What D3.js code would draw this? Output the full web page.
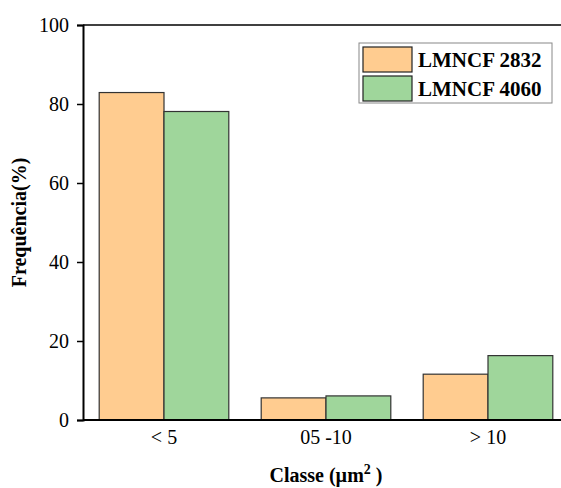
<!DOCTYPE html>
<html>
<head>
    <script src="https://d3js.org/d3.v7.min.js"></script>
    <style>
        body { margin: 0; background: #fff; }
        svg text { font-family: "Liberation Serif", "Times New Roman", "DejaVu Serif", serif; }
    </style>
</head>
<body>
    <svg width="561" height="488" id="chart"></svg>
    <script>
        // Data
        const categories = ["< 5", "05 -10", "> 10"];
        const seriesNames = ["LMNCF 2832", "LMNCF 4060"];
        const lmncf2832 = [82.9, 5.6, 11.6];
        const lmncf4060 = [78.1, 6.1, 16.3];
        const yTicks = [0, 20, 40, 60, 80, 100];
        const colors = ["#FFCC90", "#9FD69B"];

        const svg = d3.select("#chart");
        const plotLeft = 83, plotRight = 561, plotTop = 25, plotBottom = 420;

        const x = d3.scaleBand()
            .domain(categories)
            .range([plotLeft, plotLeft + 486])
            .paddingInner(0.2)
            .paddingOuter(0.1);
        const xs = d3.scaleBand()
            .domain(seriesNames)
            .range([0, x.bandwidth()]);
        const y = d3.scaleLinear().domain([0, 100]).range([plotBottom, plotTop]);

        // bars
        const series = [lmncf2832, lmncf4060];
        series.forEach((vals, si) => {
            svg.append("g").selectAll("rect")
                .data(vals)
                .enter().append("rect")
                .attr("x", (d, i) => x(categories[i]) + xs(seriesNames[si]))
                .attr("y", d => y(d))
                .attr("width", xs.bandwidth())
                .attr("height", d => plotBottom - y(d))
                .attr("fill", colors[si])
                .attr("stroke", "#333")
                .attr("stroke-width", 1.2);
        });

        // y axis
        const yAxis = svg.append("g")
            .attr("transform", `translate(${plotLeft},0)`)
            .call(d3.axisLeft(y).tickValues(yTicks).tickSize(6).tickPadding(8));
        yAxis.attr("font-family", null);
        yAxis.selectAll("text").attr("font-size", 20).attr("fill", "#000");
        yAxis.selectAll("line").attr("stroke", "#000").attr("stroke-width", 1.5);
        yAxis.select(".domain").attr("stroke", "#000").attr("stroke-width", 2);

        // bottom and top lines
        svg.append("line").attr("x1", plotLeft).attr("x2", plotRight).attr("y1", plotBottom).attr("y2", plotBottom)
            .attr("stroke", "#000").attr("stroke-width", 2);
        svg.append("line").attr("x1", plotLeft).attr("x2", plotRight).attr("y1", plotTop).attr("y2", plotTop)
            .attr("stroke", "#000").attr("stroke-width", 1.5);

        // x labels
        svg.append("g").selectAll("text")
            .data(categories)
            .enter().append("text")
            .attr("x", d => x(d) + x.bandwidth() / 2)
            .attr("y", 444)
            .attr("text-anchor", "middle")
            .attr("font-size", 20)
            .text(d => d);

        // axis titles
        const xt = svg.append("text")
            .attr("x", 326)
            .attr("y", 482)
            .attr("text-anchor", "middle")
            .attr("font-size", 20)
            .attr("font-weight", "bold");
        xt.append("tspan").text("Classe (µm");
        xt.append("tspan").attr("dy", -8).attr("font-size", 14).text("2");
        xt.append("tspan").attr("dy", 8).text(" )");

        svg.append("text")
            .attr("transform", `translate(26,${(plotTop + plotBottom) / 2}) rotate(-90)`)
            .attr("text-anchor", "middle")
            .attr("font-size", 20)
            .attr("font-weight", "bold")
            .text("Frequência(%)");

        // legend
        const lg = svg.append("g");
        lg.append("rect").attr("x", 359).attr("y", 43).attr("width", 193).attr("height", 60)
            .attr("fill", "#fff").attr("stroke", "#888").attr("stroke-width", 1);
        seriesNames.forEach((name, i) => {
            lg.append("rect")
                .attr("x", 363).attr("y", 47 + i * 29)
                .attr("width", 49).attr("height", 25)
                .attr("fill", colors[i]).attr("stroke", "#222").attr("stroke-width", 1.2);
            lg.append("text")
                .attr("x", 418).attr("y", 67 + i * 29)
                .attr("font-size", 21).attr("font-weight", "bold")
                .text(name);
        });
    </script>
</body>
</html>
